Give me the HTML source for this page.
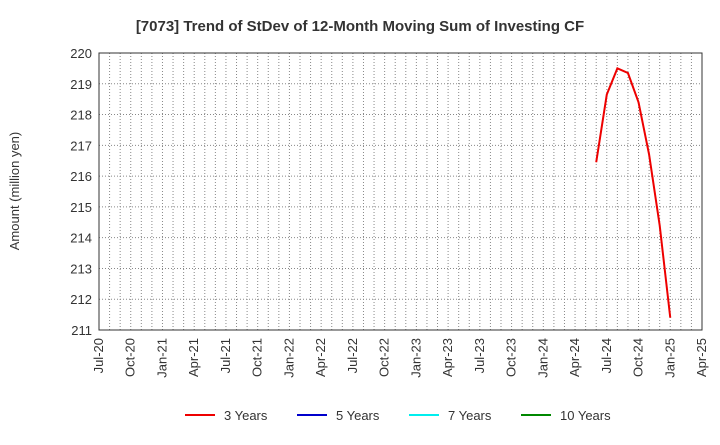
<!DOCTYPE html>
<html><head><meta charset="utf-8"><style>
body{margin:0;background:#fff;font-family:"Liberation Sans",Arial,sans-serif;}
</style></head><body>
<svg width="720" height="440" xmlns="http://www.w3.org/2000/svg" font-family="Liberation Sans, Arial, sans-serif">
<text x="360" y="31" text-anchor="middle" font-size="15" font-weight="bold" fill="#333">[7073]  Trend of StDev of 12-Month Moving Sum of Investing CF</text>
<text transform="translate(19,191) rotate(-90)" text-anchor="middle" font-size="13" fill="#333">Amount (million yen)</text>
<g id="grid"></g>
<rect x="99" y="53" width="603" height="277" fill="none" stroke="#333" stroke-width="1"/>
<g id="yticks"></g>
<g id="xticks"></g>
<g id="series"></g>
<g font-size="13" fill="#333">
<g><line x1="185" y1="415" x2="215" y2="415" stroke="#e00" stroke-width="2"/><text x="224" y="420">3 Years</text></g>
<g><line x1="297" y1="415" x2="327" y2="415" stroke="#00c" stroke-width="2"/><text x="336" y="420">5 Years</text></g>
<g><line x1="409" y1="415" x2="439" y2="415" stroke="#0ee" stroke-width="2"/><text x="448" y="420">7 Years</text></g>
<g><line x1="521" y1="415" x2="551" y2="415" stroke="#080" stroke-width="2"/><text x="560" y="420">10 Years</text></g>
</g>
</svg>
<script>
const xTickLabels=["Jul-20","Oct-20","Jan-21","Apr-21","Jul-21","Oct-21","Jan-22","Apr-22","Jul-22","Oct-22","Jan-23","Apr-23","Jul-23","Oct-23","Jan-24","Apr-24","Jul-24","Oct-24","Jan-25","Apr-25"];
const yTicks=[211,212,213,214,215,216,217,218,219,220];
// month index from Jul-20
const series3Months=[47,48,49,50,51,52,53,54];
const series3Values=[216.45,218.65,219.5,219.35,218.4,216.7,214.4,211.4];
const X0=99,X1=702,Y0=330,Y1=53,yMin=211,yMax=220,totalMonths=57;
const ns="http://www.w3.org/2000/svg";
const xs=m=>X0+(X1-X0)*m/totalMonths;
const ys=v=>Y0-(Y0-Y1)*(v-yMin)/(yMax-yMin);
const grid=document.getElementById('grid'),yt=document.getElementById('yticks'),xt=document.getElementById('xticks'),sg=document.getElementById('series');
function mk(t,a){const e=document.createElementNS(ns,t);for(const k in a)e.setAttribute(k,a[k]);return e;}
for(let m=1;m<totalMonths;m++){const l=mk('line',{x1:xs(m),x2:xs(m),y1:Y1,y2:Y0,stroke:'#888','stroke-dasharray':'1,2','stroke-width':1});


grid.appendChild(l);}
yTicks.forEach(v=>{const y=ys(v);
if(v>yMin&&v<yMax){const l=mk('line',{x1:X0,x2:X1,y1:y,y2:y,stroke:'#888','stroke-dasharray':'1,2'});


grid.appendChild(l);}
const t=mk('text',{x:X0-7,y:y+5,'text-anchor':'end','font-size':13,fill:'#333'});t.textContent=v;


yt.appendChild(t);});
xTickLabels.forEach((s,i)=>{const x=xs(i*3);const t=mk('text',{transform:`translate(${x+4},${Y0+8}) rotate(-90)`,'text-anchor':'end','font-size':13,fill:'#333'});t.textContent=s;


xt.appendChild(t);});
const pts=series3Months.map((m,i)=>xs(m)+','+ys(series3Values[i])).join(' ');
const pl=mk('polyline',{points:pts,fill:'none',stroke:'#e00','stroke-width':2});


sg.appendChild(pl);
</script>
</body></html>
